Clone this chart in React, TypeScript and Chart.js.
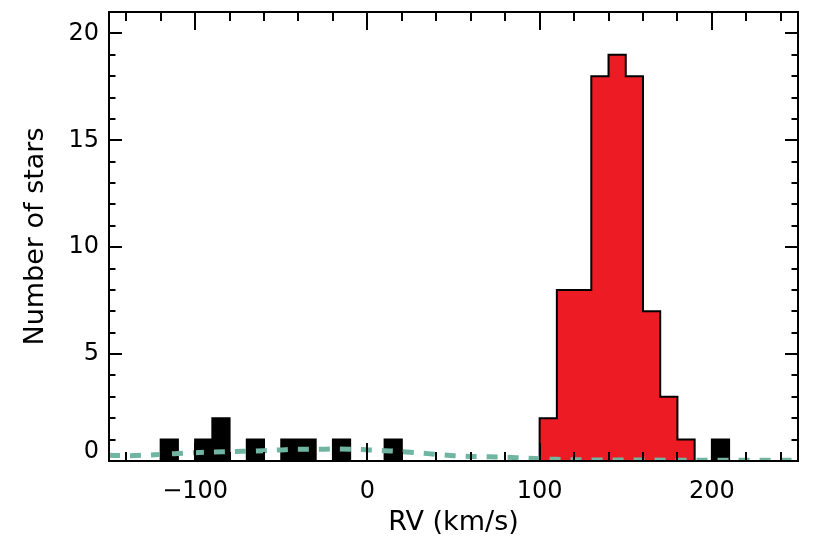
import React, { useEffect, useRef } from "react";
import { Chart, registerables } from "chart.js";

Chart.register(...registerables);

// Histogram bins (km/s), bin width 10
const binWidth = 10;
const memberBinStarts = [100, 110, 120, 130, 140, 150, 160, 170, 180];
const memberCounts = [2, 8, 8, 18, 19, 18, 7, 3, 1];
const nonMemberBinStarts = [-120, -100, -90, -70, -50, -40, -20, 10, 200];
const nonMemberCounts = [1, 1, 2, 1, 1, 1, 1, 1, 1];

// Background model (dashed curve)
const modelRV = [-150, -140, -130, -120, -110, -100, -90, -80, -70, -60, -50, -40, -30, -20, -10, 0, 10, 20, 30, 40, 50, 60, 70, 80, 90, 100, 110, 120, 130, 150, 175, 200, 225, 250];
const modelN = [0.27, 0.25, 0.27, 0.31, 0.35, 0.39, 0.42, 0.44, 0.46, 0.48, 0.52, 0.55, 0.55, 0.56, 0.55, 0.52, 0.48, 0.44, 0.38, 0.31, 0.25, 0.21, 0.2, 0.18, 0.14, 0.1, 0.08, 0.06, 0.05, 0.05, 0.04, 0.04, 0.03, 0.03];

const xTickLabels = [-100, 0, 100, 200];
const yTickLabels = [0, 5, 10, 15, 20];

function histPoints(starts: number[], counts: number[], w: number) {
  const pts: { x: number; y: number }[] = [];
  for (let i = 0; i < starts.length; i++) {
    const s = starts[i];
    const prevEnd = i > 0 ? starts[i - 1] + w : null;
    if (prevEnd !== s) pts.push({ x: s, y: 0 });
    pts.push({ x: s, y: counts[i] });
    const nextStart = i < starts.length - 1 ? starts[i + 1] : null;
    if (nextStart !== s + w) {
      pts.push({ x: s + w, y: counts[i] });
      pts.push({ x: s + w, y: 0 });
    }
  }
  return pts;
}

const framePlugin = {
  id: "idlFrame",
  afterDatasetsDraw(chart: any) {
    const { ctx, chartArea } = chart;
    const { left, right, top, bottom } = chartArea;
    const xs = chart.scales.x;
    const ys = chart.scales.y;
    ctx.save();
    ctx.strokeStyle = "#000";
    ctx.lineWidth = 2;
    ctx.lineCap = "butt";
    ctx.beginPath();
    for (const t of xs.ticks) {
      const v = Math.round(t.value);
      if (v % 20 !== 0) continue;
      const major = v % 100 === 0;
      const len = major ? 18 : 9;
      const px = Math.round(xs.getPixelForValue(v));
      ctx.moveTo(px, bottom);
      ctx.lineTo(px, bottom - len);
      ctx.moveTo(px, top);
      ctx.lineTo(px, top + len);
    }
    for (const t of ys.ticks) {
      const v = Math.round(t.value);
      const major = v % 5 === 0;
      const len = major ? 13 : 6.5;
      const py = Math.round(ys.getPixelForValue(v));
      ctx.moveTo(left, py);
      ctx.lineTo(left + len, py);
      ctx.moveTo(right, py);
      ctx.lineTo(right - len, py);
    }
    ctx.stroke();
    ctx.strokeRect(left, top, right - left, bottom - top);
    ctx.restore();
  },
};

export default function App() {
  const canvasRef = useRef<HTMLCanvasElement | null>(null);

  useEffect(() => {
    document.body.style.margin = "0";
    const canvas = canvasRef.current;
    if (!canvas) return;
    const font = "'DejaVu Sans', sans-serif";
    const chart = new Chart(canvas, {
      type: "line",
      data: {
        datasets: [
          {
            label: "Members",
            data: histPoints(memberBinStarts, memberCounts, binWidth),
            stepped: "before",
            fill: "origin",
            backgroundColor: "#ed1c24",
            borderColor: "#000000",
            borderWidth: 2,
            pointRadius: 0,
            order: 3,
          },
          {
            label: "Non-members",
            data: histPoints(nonMemberBinStarts, nonMemberCounts, binWidth),
            stepped: "before",
            fill: "origin",
            backgroundColor: "#000000",
            borderColor: "#000000",
            borderWidth: 2,
            pointRadius: 0,
            order: 2,
          },
          {
            label: "Model",
            data: modelRV.map((x, i) => ({ x, y: modelN[i] })),
            fill: false,
            borderColor: "#6fb5a2",
            borderWidth: 5,
            borderDash: [11, 10],
            borderCapStyle: "butt",
            cubicInterpolationMode: "monotone",
            pointRadius: 0,
            order: 1,
          },
        ],
      },
      options: {
        responsive: false,
        animation: false,
        events: [],
        layout: { padding: { top: 12, right: 24, left: 0, bottom: 0 } },
        plugins: {
          legend: { display: false },
          tooltip: { enabled: false },
        },
        scales: {
          x: {
            type: "linear",
            min: -150,
            max: 250,
            grid: { display: false, drawTicks: false },
            border: { display: false },
            ticks: {
              stepSize: 10,
              autoSkip: false,
              maxRotation: 0,
              padding: 16,
              color: "#000",
              font: { family: font, size: 24 },
              callback: (v: any) => {
                const n = Math.round(Number(v));
                if (!xTickLabels.includes(n)) return "";
                return n < 0 ? "\u2212" + Math.abs(n) : String(n);
              },
            },
            title: {
              display: true,
              text: "RV (km/s)",
              color: "#000",
              font: { family: font, size: 27 },
              padding: { top: 0, bottom: 9 },
            },
            afterFit: (scale: any) => {
              scale.height = 87;
              scale.paddingLeft = 0;
              scale.paddingRight = 0;
            },
          },
          y: {
            type: "linear",
            min: 0,
            max: 21,
            grid: { display: false, drawTicks: false },
            border: { display: false },
            ticks: {
              stepSize: 1,
              autoSkip: false,
              maxTicksLimit: 100,
              padding: 10,
              color: "#000",
              font: (c: any) =>
                c.tick && Math.round(c.tick.value) === 0
                  ? { family: font, size: 24, lineHeight: 0.75 }
                  : { family: font, size: 24 },
              callback: (v: any) => {
                const n = Math.round(Number(v));
                if (n === 0) return ["0", ""];
                return yTickLabels.includes(n) ? String(n) : "";
              },
            },
            title: {
              display: true,
              text: "Number of stars",
              color: "#000",
              font: { family: font, size: 27 },
              padding: { top: 20, bottom: 0 },
            },
            afterFit: (scale: any) => {
              scale.width = 109;
              scale.paddingTop = 0;
              scale.paddingBottom = 0;
            },
          },
        },
      },
      plugins: [framePlugin],
    } as any);
    return () => chart.destroy();
  }, []);

  return (
    <div style={{ width: 822, height: 548, background: "#fff" }}>
      <canvas ref={canvasRef} width={822} height={548} style={{ display: "block" }} />
    </div>
  );
}
